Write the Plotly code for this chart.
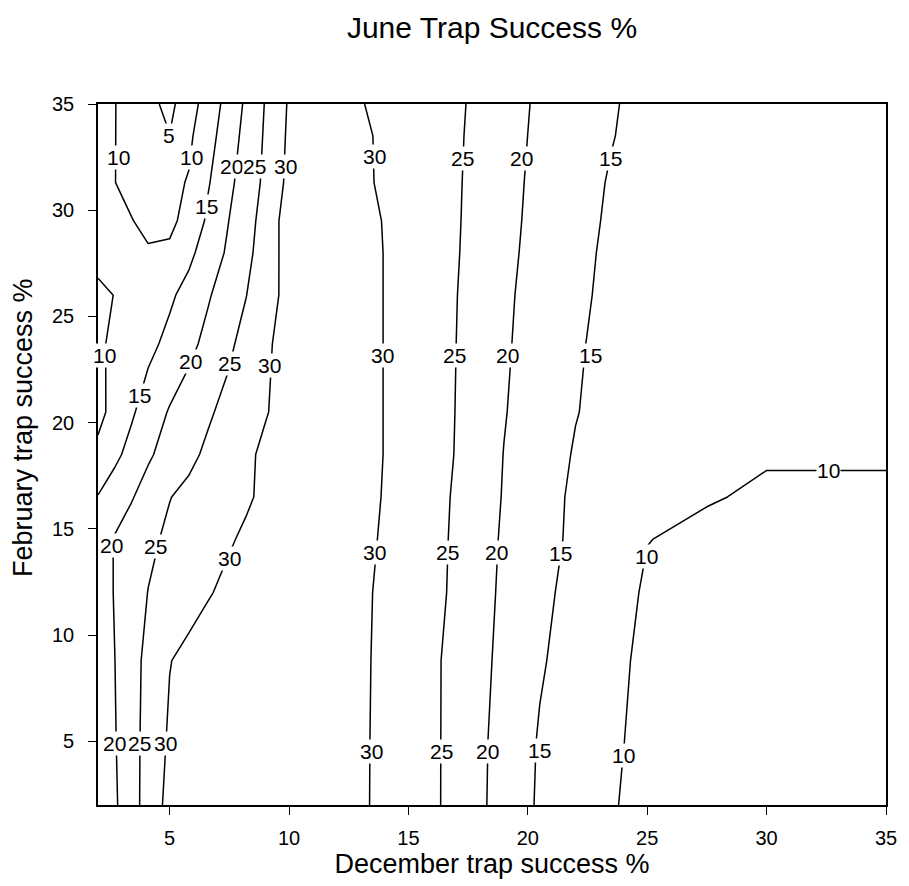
import plotly.graph_objects as go

# December trap success % (x grid)
dec_x = [2, 2.7, 3.4, 4.1, 5, 5.8, 6.6, 7.4, 8.2, 9, 10, 11.5, 13, 14.5, 16, 17.5,
         19, 20.5, 22, 23.5, 25, 27.5, 30, 35]
# February trap success % (y grid)
feb_y = [2, 5, 8.8, 12, 14.5, 16.5, 18.5, 20.5, 23.7, 26, 28, 29.5, 31.3, 33.5, 35]

# June trap success % (rows follow feb_y, columns follow dec_x)
june_z = [
    [16, 19.33, 23.15, 26.91, 31.55, 32, 32, 32, 32, 32, 32, 32, 30.6, 28.19, 25.9, 22.04, 18.14, 14.4, 12.53, 10.2, 9.2, 8.2, 7.6, 7.0],
    [16.5, 19.68, 23.28, 26.65, 30.67, 31.6, 32, 32, 32, 32, 32, 32, 30.62, 28.22, 25.9, 22.11, 18.29, 14.63, 12.77, 10.4, 9.3, 8.3, 7.7, 7.2],
    [16.8, 19.95, 23.24, 26.27, 29.85, 31.2, 32, 32, 32, 32, 32, 32, 30.67, 28.33, 25.83, 22.44, 18.78, 15.44, 13.19, 10.8, 9.3, 8.6, 8.0, 7.6],
    [17.2, 20.28, 22.73, 25.09, 26.75, 28.23, 29.7, 30.77, 31.55, 32, 32, 32, 30.75, 28.5, 26.5, 22.75, 19.17, 16.04, 13.63, 11.58, 9.52, 9.0, 8.6, 8.3],
    [16.6, 20.35, 22.21, 24.07, 25.85, 27.08, 28.31, 29.54, 30.58, 31.5, 32, 32, 30.82, 29.06, 26.6, 23.0, 19.43, 16.6, 14.12, 12.09, 10.07, 9.3, 9.0, 9.0],
    [15.2, 17.43, 19.65, 21.93, 24.87, 26.09, 27.23, 28.37, 29.51, 30.72, 31.75, 32, 30.92, 29.3, 26.7, 23.29, 19.72, 16.94, 14.17, 12.4, 11.2, 10.21, 9.6, 9.6],
    [11.2, 13.93, 16.53, 19.35, 21.89, 23.93, 25.82, 27.54, 29.27, 30.72, 31.75, 32, 30.97, 29.42, 27.2, 23.54, 19.91, 17.28, 14.64, 13.0, 11.8, 10.9, 10.24, 10.24],
    [8.6, 11.59, 14.37, 17.11, 20.4, 22.39, 24.38, 26.21, 27.97, 29.74, 31.5, 32, 30.97, 29.42, 27.2, 23.72, 20.23, 17.67, 15.17, 13.55, 12.3, 11.5, 11.0, 10.9],
    [9.3, 10.82, 12.34, 13.85, 16.18, 18.73, 21.32, 23.95, 26.52, 29.05, 32.2, 32.4, 30.97, 29.42, 27.22, 23.89, 20.56, 18.03, 15.68, 13.29, 12.5, 11.8, 11.3, 11.2],
    [9.5, 10.05, 11.34, 12.63, 14.28, 16.53, 19.51, 22.23, 24.9, 27.85, 31.6, 32.2, 30.97, 29.42, 27.3, 24.02, 20.76, 18.28, 16.04, 13.8, 12.9, 12.1, 11.5, 11.4],
    [10.75, 11.2, 10.9, 10.4, 10.4, 13.9, 17.21, 20.48, 23.71, 27.26, 32.0, 32.2, 30.97, 29.42, 27.43, 24.26, 21.06, 18.55, 16.38, 14.0, 13.1, 12.3, 11.7, 11.6],
    [11.3, 11.0, 10.15, 9.01, 9.48, 10.78, 15.9, 19.67, 23.07, 26.85, 32.3, 32.5, 30.93, 29.33, 27.5, 24.38, 21.25, 18.73, 16.62, 14.3, 13.3, 12.5, 11.9, 11.8],
    [11.0, 10.06, 8.87, 7.67, 8.85, 10.3, 14.55, 18.55, 22.26, 25.94, 31.2, 31.8, 30.75, 28.74, 27.55, 24.49, 21.43, 18.9, 16.85, 14.6, 13.5, 12.6, 12.0, 11.9],
    [11.2, 10.09, 8.59, 7.06, 5.1, 9.11, 13.11, 17.32, 21.46, 25.53, 30.8, 31.0, 30.58, 28.88, 27.6, 24.66, 21.69, 19.13, 17.13, 15.2, 13.4, 13.0, 12.3, 12.0],
    [11.4, 10.13, 8.24, 6.28, 3.8, 7.85, 12.13, 16.41, 20.78, 25.21, 30.5, 30.8, 30.19, 28.47, 27.8, 24.82, 21.88, 19.3, 17.37, 15.44, 13.5, 12.7, 12.2, 12.0],
]

# contour level labels, placed where the reference shows them on each line
label_levels = [10, 5, 10, 20, 25, 30, 15, 30, 25, 20, 15,
                10, 15, 20, 25, 30, 30, 25, 20, 15,
                20, 25, 30, 30, 25, 20, 15, 10, 10,
                20, 25, 30, 30, 25, 20, 15, 10]
label_at_x = [2.87, 4.97, 5.92, 7.58, 8.55, 9.85, 6.54, 13.6, 17.28, 19.75, 23.46,
              2.29, 3.73, 5.86, 7.51, 9.17, 13.9, 16.93, 19.16, 22.63,
              2.56, 4.42, 7.52, 13.6, 16.65, 18.7, 21.35, 24.98, 32.6,
              2.7, 3.73, 4.83, 13.47, 16.38, 18.3, 20.47, 24.0]
label_at_y = [32.46, 33.54, 32.46, 32.05, 32.05, 32.05, 30.17, 32.52, 32.45, 32.45, 32.45,
              23.18, 21.3, 22.86, 22.79, 22.7, 23.18, 23.18, 23.18, 23.18,
              14.23, 14.15, 13.6, 13.9, 13.9, 13.9, 13.84, 13.68, 17.76,
              4.89, 4.89, 4.89, 4.5, 4.5, 4.5, 4.57, 4.34]

x_ticks = [5, 10, 15, 20, 25, 30, 35]
y_ticks = [5, 10, 15, 20, 25, 30, 35]

FONT = "Liberation Sans, Arial, sans-serif"

fig = go.Figure(
    go.Contour(
        x=dec_x, y=feb_y, z=june_z,
        autocontour=False,
        contours=dict(coloring="lines", start=5, end=30, size=5, showlabels=False),
        line=dict(width=1.5, smoothing=0),
        colorscale=[[0, "black"], [1, "black"]],
        showscale=False,
        hoverinfo="skip",
    )
)

annotations = []
for lv, lx, ly in zip(label_levels, label_at_x, label_at_y):
    annotations.append(dict(
        x=lx, y=ly, xref="x", yref="y", text=str(lv), showarrow=False,
        font=dict(family=FONT, size=21, color="black"),
        bgcolor="white", borderpad=0, xanchor="center", yanchor="middle",
    ))

annotations.append(dict(
    x=(22 - 98) / 799, y=(805 - 428) / 701, xref="paper", yref="paper",
    text="February trap success %", textangle=-90, showarrow=False,
    font=dict(family=FONT, size=27, color="black"),
    xanchor="center", yanchor="middle",
))

axis_common = dict(
    ticks="outside", ticklen=8, tickwidth=1.4, tickcolor="black",
    showline=True, linecolor="black", linewidth=1.6, mirror=True,
    showgrid=False, zeroline=False,
    tickfont=dict(family=FONT, size=20, color="black"),
)

fig.update_layout(
    width=909, height=886,
    margin=dict(l=98, r=12, t=104, b=81),
    plot_bgcolor="white", paper_bgcolor="white",
    font=dict(family=FONT, color="black"),
    title=dict(text="June Trap Success %", x=0.5, xref="paper", xanchor="center",
               y=1 - 27 / 886, yref="container", yanchor="middle",
               font=dict(family=FONT, size=30, color="black")),
    xaxis=dict(range=[2, 35], tickvals=x_ticks, ticklabelstandoff=6,
               title=dict(text="December trap success %", standoff=5,
                          font=dict(family=FONT, size=27, color="black")),
               **axis_common),
    yaxis=dict(range=[2, 35], tickvals=y_ticks, ticklabelstandoff=10,
               **axis_common),
    annotations=annotations,
)

fig.write_html("out.html")
